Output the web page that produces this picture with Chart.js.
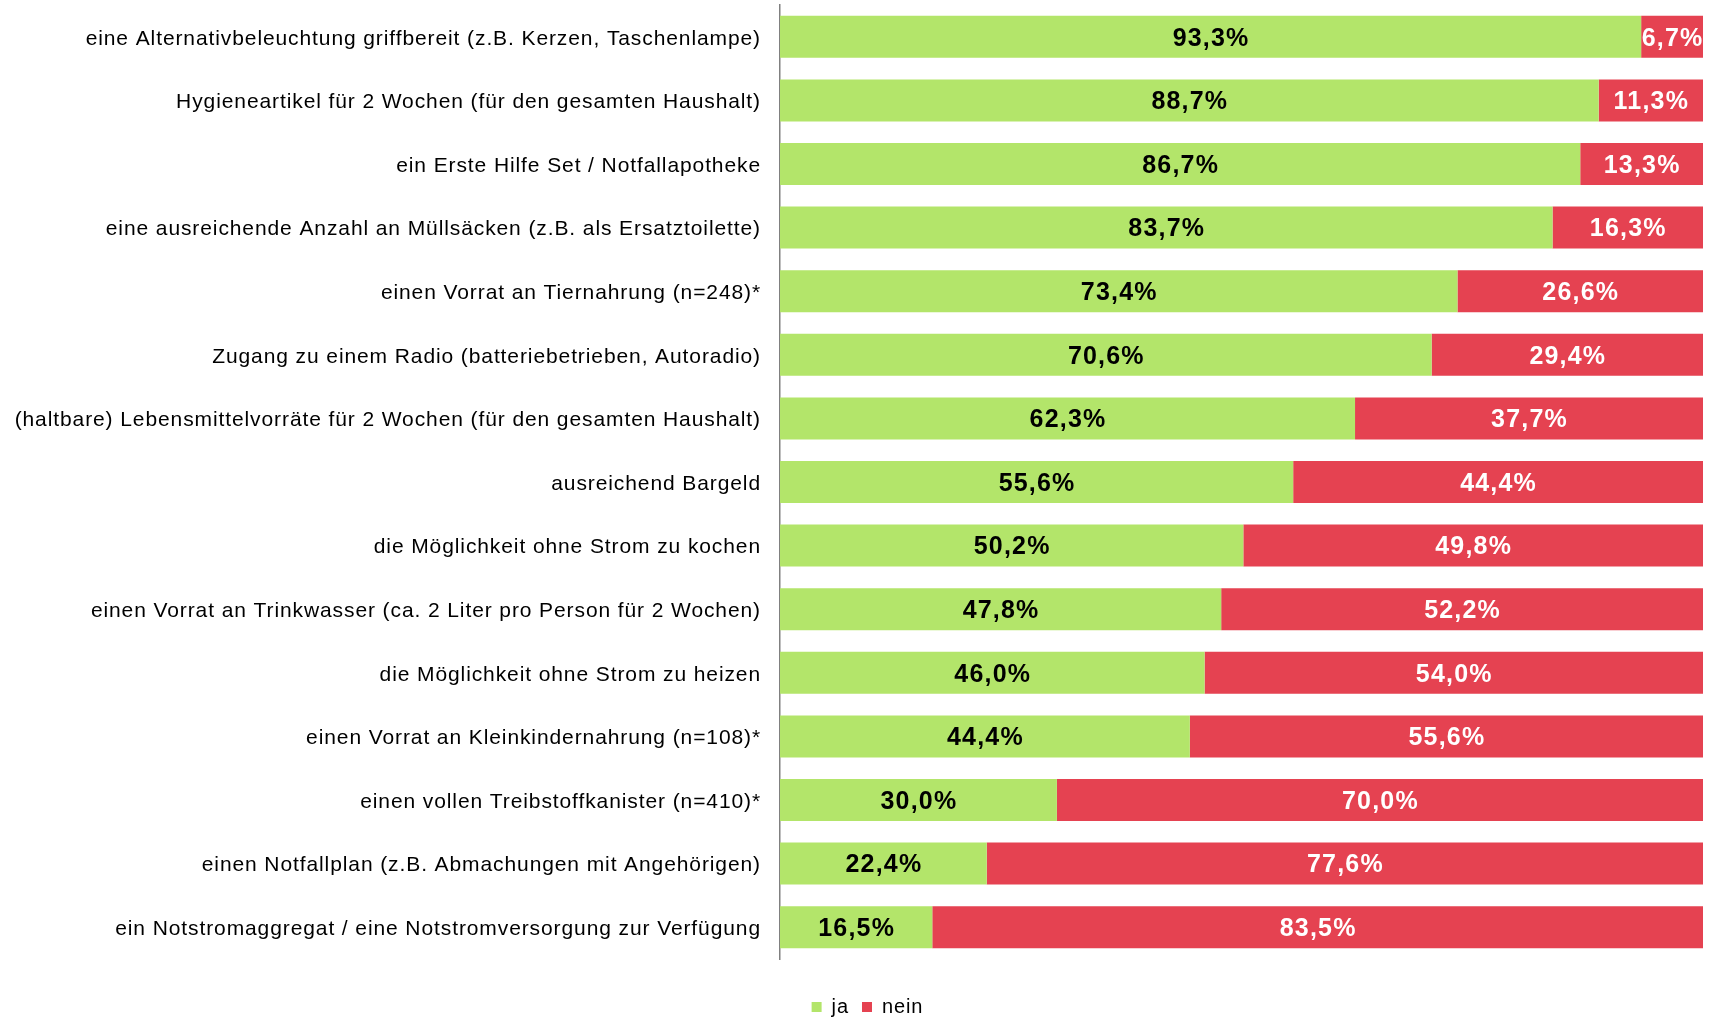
<!DOCTYPE html>
<html>
<head>
<meta charset="utf-8">
<script src="https://cdn.jsdelivr.net/npm/chart.js@4/dist/chart.umd.min.js"></script>
<style>
  html, body { margin: 0; padding: 0; background: #fff; }
  canvas { display: block; }
</style>
</head>
<body>
<canvas id="c" width="1713" height="1017"></canvas>
<script>
const categories = [
  "eine Alternativbeleuchtung griffbereit (z.B. Kerzen, Taschenlampe)",
  "Hygieneartikel für 2 Wochen (für den gesamten Haushalt)",
  "ein Erste Hilfe Set / Notfallapotheke",
  "eine ausreichende Anzahl an Müllsäcken (z.B. als Ersatztoilette)",
  "einen Vorrat an Tiernahrung (n=248)*",
  "Zugang zu einem Radio (batteriebetrieben, Autoradio)",
  "(haltbare) Lebensmittelvorräte für 2 Wochen (für den gesamten Haushalt)",
  "ausreichend Bargeld",
  "die Möglichkeit ohne Strom zu kochen",
  "einen Vorrat an Trinkwasser (ca. 2 Liter pro Person für 2 Wochen)",
  "die Möglichkeit ohne Strom zu heizen",
  "einen Vorrat an Kleinkindernahrung (n=108)*",
  "einen vollen Treibstoffkanister (n=410)*",
  "einen Notfallplan (z.B. Abmachungen mit Angehörigen)",
  "ein Notstromaggregat / eine Notstromversorgung zur Verfügung"
];
const jaValues   = [93.3, 88.7, 86.7, 83.7, 73.4, 70.6, 62.3, 55.6, 50.2, 47.8, 46.0, 44.4, 30.0, 22.4, 16.5];
const neinValues = [6.7, 11.3, 13.3, 16.3, 26.6, 29.4, 37.7, 44.4, 49.8, 52.2, 54.0, 55.6, 70.0, 77.6, 83.5];
const seriesNames = ["ja", "nein"];

const FONT = '"Liberation Sans", Arial, sans-serif';
const GREEN = '#B3E56A';
const RED = '#E54251';

function fmt(v) { return v.toFixed(1).replace('.', ',') + '%'; }

const spacing = {
  id: 'spacing',
  beforeUpdate(chart) { chart.ctx.letterSpacing = '0.9px'; },
  afterLayout(chart) {
    const lg = chart.legend;
    if (lg) { lg.left += 16; lg.right += 16; }
  },
  beforeDraw(chart) { chart.ctx.letterSpacing = '0.9px'; }
};

const valueLabels = {
  id: 'valueLabels',
  afterDatasetsDraw(chart) {
    const ctx = chart.ctx;
    chart.data.datasets.forEach((ds, di) => {
      const meta = chart.getDatasetMeta(di);
      if (meta.hidden) return;
      meta.data.forEach((bar, i) => {
        const p = bar.getProps(['x', 'y', 'base'], true);
        ctx.save();
        ctx.letterSpacing = '1.2px';
        ctx.font = 'bold 25px ' + FONT;
        ctx.fillStyle = di === 0 ? '#000000' : '#FFFFFF';
        ctx.textAlign = 'center';
        ctx.textBaseline = 'middle';
        ctx.fillText(fmt(ds.data[i]), (p.x + p.base) / 2 + 0.5, p.y + 2);
        ctx.restore();
      });
    });
  }
};

new Chart(document.getElementById('c'), {
  type: 'bar',
  data: {
    labels: categories,
    datasets: [
      { label: seriesNames[0], data: jaValues, backgroundColor: GREEN, borderWidth: 0 },
      { label: seriesNames[1], data: neinValues, backgroundColor: RED, borderWidth: 0 }
    ]
  },
  options: {
    indexAxis: 'y',
    responsive: false,
    animation: false,
    categoryPercentage: 1.0,
    barPercentage: 0.66,
    layout: { padding: { top: 5, right: 10, bottom: -10, left: 0 } },
    scales: {
      x: {
        stacked: true,
        min: 0, max: 100,
        display: true,
        ticks: { display: false },
        grid: { display: false, drawTicks: true, tickLength: 25 },
        border: { display: false },
        afterFit(s) { s.paddingLeft = 0; s.paddingRight = 0; }
      },
      y: {
        stacked: true,
        ticks: { color: '#000000', font: { family: FONT, size: 21 }, padding: 19, labelOffset: 2, autoSkip: false },
        grid: { display: false, drawTicks: false },
        border: { display: true, color: '#808080', width: 1.5 },
        afterFit(s) { s.width = 780; s.paddingTop = 0; s.paddingBottom = 0; }
      }
    },
    plugins: {
      legend: {
        position: 'bottom',
        labels: { boxWidth: 10, boxHeight: 10, padding: 13, color: '#000000', font: { family: FONT, size: 20 } }
      },
      tooltip: { enabled: false }
    }
  },
  plugins: [spacing, valueLabels]
});
</script>
</body>
</html>
